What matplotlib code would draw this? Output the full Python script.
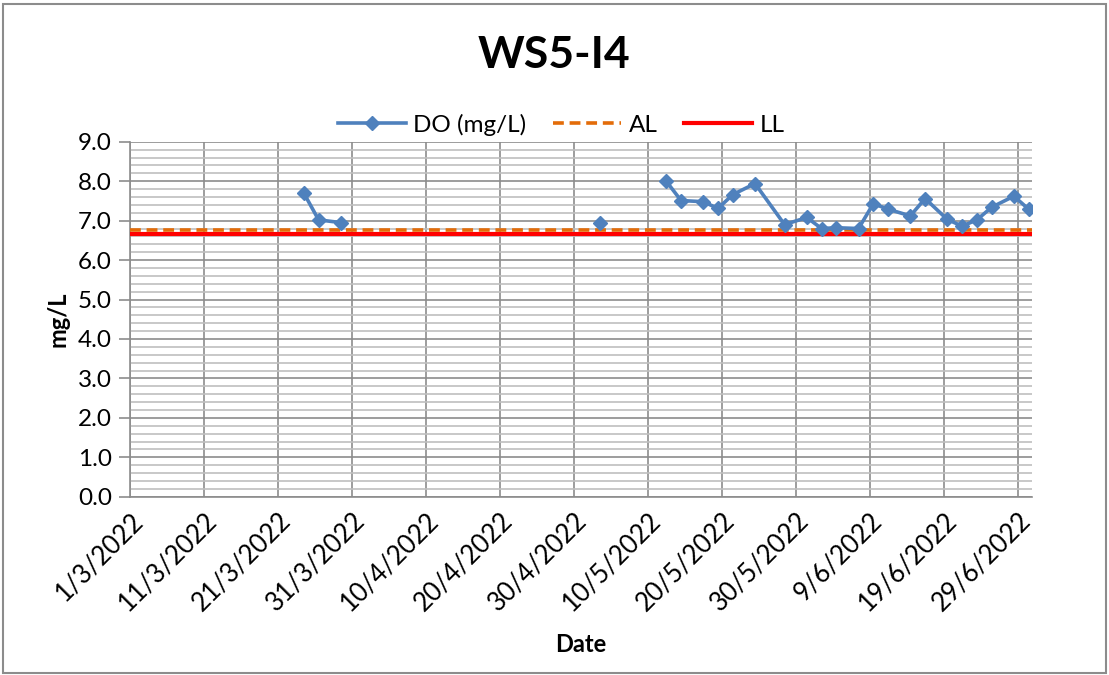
# DO chart for station WS5-I4, Mar-Jun 2022
import numpy as np
import pandas as pd
import matplotlib
matplotlib.use('Agg')
from matplotlib import pyplot as plt
from matplotlib.ticker import MultipleLocator, FormatStrFormatter
from matplotlib.patches import Rectangle

plt.rcParams['font.family'] = ['Lato', 'DejaVu Sans']

# sampling dates (empty cells = gaps in the line)
sample_dates = ['2022-03-24', '2022-03-26', '2022-03-29', '2022-04-15',
                '2022-05-03', '2022-05-08',
                '2022-05-12', '2022-05-14', '2022-05-17', '2022-05-19', '2022-05-21',
                '2022-05-24', '2022-05-28', '2022-05-31', '2022-06-02', '2022-06-04',
                '2022-06-07', '2022-06-09', '2022-06-11', '2022-06-14', '2022-06-16',
                '2022-06-19', '2022-06-21', '2022-06-23', '2022-06-25', '2022-06-28',
                '2022-06-30']
do_vals = [7.70, 7.02, 6.95, np.nan,
           6.93, np.nan,
           8.00, 7.51, 7.48, 7.31, 7.66,
           7.94, 6.90, 7.08, 6.80, 6.82,
           6.80, 7.43, 7.29, 7.12, 7.56,
           7.03, 6.86, 7.02, 7.34, 7.62,
           7.29]
al_level = 6.77
ll_level = 6.65

x_start, x_end = '2022-03-01', '2022-07-01'
tick_dates = pd.date_range('2022-03-01', '2022-06-29', freq='10D')
tick_labels = [f'{d.day}/{d.month}/{d.year}' for d in tick_dates]

blue = '#4F81BD'
orange = '#E36C09'
red = '#FF0000'

dates = pd.to_datetime(sample_dates) + pd.Timedelta(hours=12)

fig = plt.figure(figsize=(11.09, 6.75), dpi=100)
ax = fig.add_axes([0.1172, 0.2641, 0.8137, 0.5259])

x0, x1 = pd.Timestamp(x_start), pd.Timestamp(x_end)
do_line, = ax.plot(dates, do_vals, '-D', color=blue, lw=2.6, ms=7.5, label='DO (mg/L)', zorder=5)
al_line, = ax.plot([x0, x1], [al_level, al_level], '--', color=orange, lw=2.6,
                   dashes=(3, 1.6), label='AL', zorder=4)
ll_line, = ax.plot([x0, x1], [ll_level, ll_level], '-', color=red, lw=3, label='LL', zorder=3)

ax.set_xlim(x0, x1)
ax.set_ylim(0, 9)
ax.yaxis.set_major_locator(MultipleLocator(1))
ax.yaxis.set_minor_locator(MultipleLocator(0.2))
ax.yaxis.set_major_formatter(FormatStrFormatter('%.1f'))
ax.set_xticks(tick_dates)
ax.set_xticklabels(tick_labels, rotation=45, ha='right', rotation_mode='anchor')

ax.grid(which='major', axis='both', color='#8c8c8c', lw=1.2)
ax.grid(which='minor', axis='y', color='#bfbfbf', lw=1.2)
ax.set_axisbelow(True)
for s in ['top', 'right']:
    ax.spines[s].set_visible(False)
for s in ['left', 'bottom']:
    ax.spines[s].set_color('#8c8c8c')
    ax.spines[s].set_linewidth(1.2)
ax.tick_params(axis='y', which='major', length=8, width=1.2, color='#8c8c8c', labelsize=17.5, pad=5)
ax.tick_params(axis='y', which='minor', length=0)
ax.tick_params(axis='x', length=0, labelsize=18.5, pad=8)

ax.set_xlabel('Date', fontsize=17, fontweight='bold', labelpad=12)
ax.set_ylabel('mg/L', fontsize=17, fontweight='bold', labelpad=6)
fig.text(0.5, 0.918, 'WS5-I4', ha='center', va='center', fontsize=32, fontweight='bold')

fig.legend(handles=[do_line, al_line, ll_line], loc='center', bbox_to_anchor=(0.506, 0.815),
           ncol=3, frameon=False, fontsize=17.5, handlelength=2.8, columnspacing=1.1,
           handletextpad=0.3)

fig.patches.append(Rectangle((0.003, 0.003), 0.994, 0.991, transform=fig.transFigure,
                             fill=False, edgecolor='#8c8c8c', lw=1.5))

fig.savefig('out.png', dpi=100)
